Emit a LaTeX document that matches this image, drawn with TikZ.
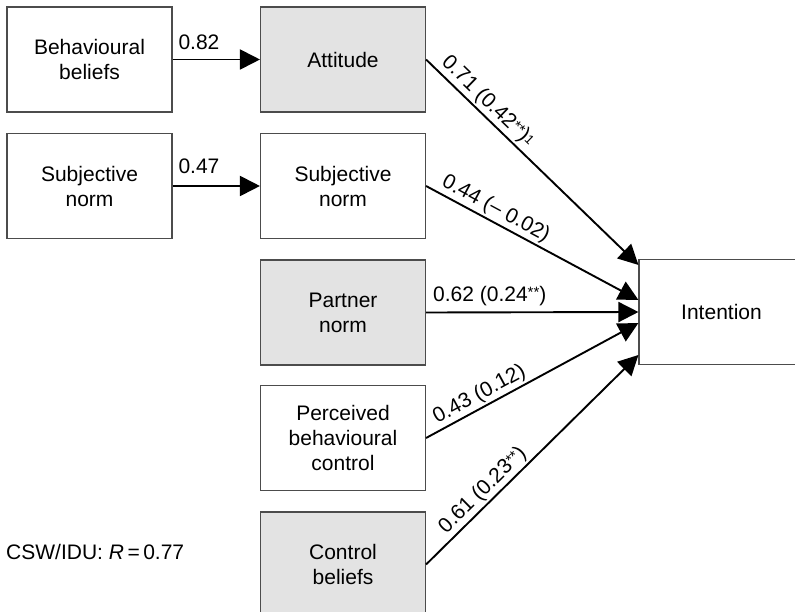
\documentclass[tikz,border=0pt]{standalone}
\usepackage{fontspec}
\setmainfont{Liberation Sans}
\usetikzlibrary{arrows.meta,calc}
\newcommand\sstar{\raisebox{0.15em}{\fontsize{15}{15}\selectfont **}}
\newcommand\fnone{\raisebox{0.1em}{\fontsize{13}{13}\selectfont 1}}
\begin{document}
\begin{tikzpicture}[x=1pt,y=-1pt,
  box/.style={draw=black!70, line width=1.1pt, minimum width=165pt, minimum height=105pt,
              align=center, font=\fontsize{21}{25}\selectfont, inner sep=0pt},
  greybox/.style={box, fill=black!11},
  arr/.style={line width=1.9pt, -{Triangle[length=20pt,width=20pt]}},
  lab/.style={font=\fontsize{21}{25}\selectfont, inner sep=2pt}]
\useasboundingbox (0,0) rectangle (795,612);
\clip (0,0) rectangle (795,612);

\node[box]     (bb)  at (89.5,59.5)  {Behavioural\\beliefs};
\node[greybox] (att) at (343,59.5)   {Attitude};
\node[box]     (sn1) at (89.5,186)   {Subjective\\norm};
\node[box]     (sn2) at (343,186)    {Subjective\\norm};
\node[greybox] (pn)  at (343,312.5)  {Partner\\norm};
\node[box]     (pbc) at (343,438)    {Perceived\\behavioural\\control};
\node[greybox] (cb)  at (343,564.5)  {Control\\beliefs};
\node[box]     (int) at (721.5,312)  {Intention};

\node[lab, anchor=west] (csw) at (4,552) {CSW/IDU: \textit{R}\,=\,0.77};

\coordinate (i1) at ($(int.north west)+(0,6)$);
\coordinate (i2) at ($(int.west)+(0,-12)$);
\coordinate (i3) at (int.west);
\coordinate (i4) at ($(int.west)+(0,11)$);
\coordinate (i5) at ($(int.west)+(0,43)$);

\draw[arr] (bb) -- node[lab, pos=0, anchor=south west, xshift=3pt, yshift=7pt] {0.82} (att);
\draw[arr] (sn1) -- node[lab, pos=0, anchor=south west, xshift=3pt, yshift=9pt] {0.47} (sn2);

\draw[arr] (att.east) -- node[lab, sloped, above, pos=0.25] {0.71 (0.42\sstar)\fnone} (i1);
\draw[arr] (sn2.east) -- node[lab, sloped, above, pos=0.30] {0.44 (-- 0.02)} (i2);
\draw[arr] (pn.east) -- node[lab, above, pos=0.30, yshift=4pt] {0.62 (0.24\sstar)} (i3);
\draw[arr] (pbc.east) -- node[lab, sloped, above, pos=0.28] {0.43 (0.12)} (i4);
\draw[arr] (cb.east) -- node[lab, sloped, above, pos=0.31] {0.61 (0.23\sstar)} (i5);
\end{tikzpicture}
\end{document}
